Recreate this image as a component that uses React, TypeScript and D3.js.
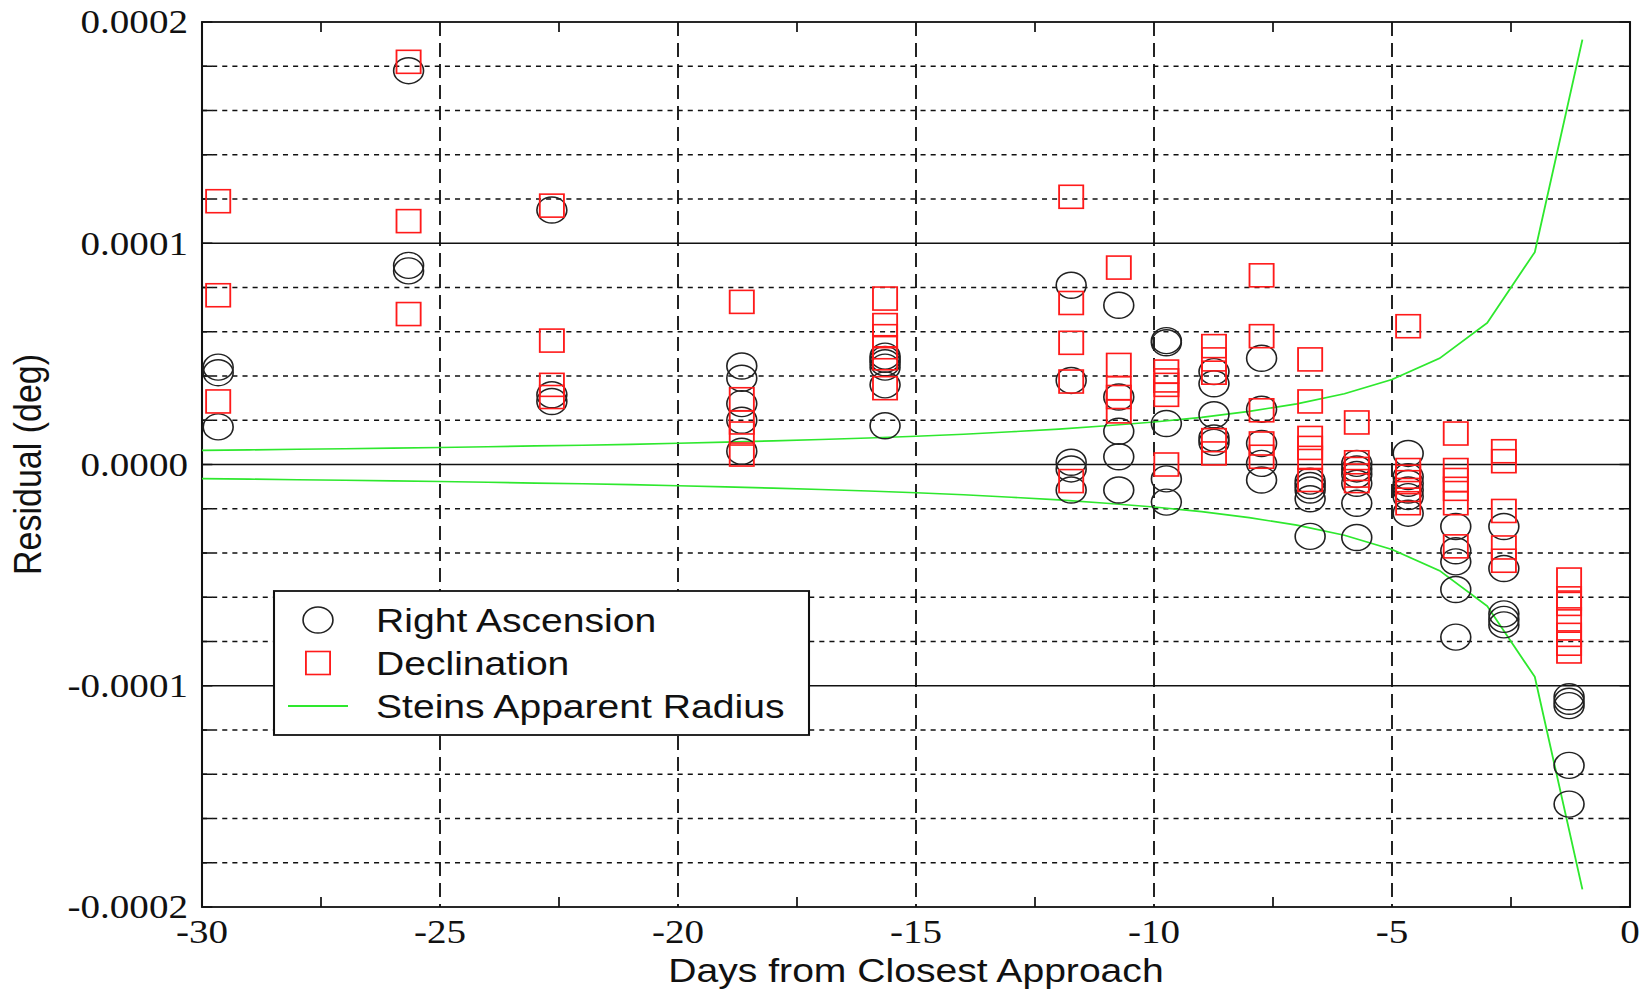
import React from 'react';
import * as d3 from 'd3';

// observation epochs (days from closest approach)
const obsDays = [-29.66, -25.66, -22.65, -18.66, -15.65, -11.74, -10.74, -9.74, -8.74, -7.74, -6.72, -5.74, -4.66, -3.66, -2.65, -1.28];

// residuals in units of 1e-5 deg, one list per epoch
const raResid: number[][] = [
    [4.4, 4.15, 1.7],
    [17.8, 9.0, 8.75],
    [11.5, 3.15, 2.85],
    [4.45, 3.9, 2.75, 2.0, 0.6],
    [4.9, 4.75, 4.6, 4.4, 3.6, 1.75],
    [8.1, 3.8, 0.1, -0.2, -1.15],
    [7.2, 3.05, 1.5, 0.35, -1.15],
    [5.6, 5.5, 1.85, -0.65, -1.7],
    [4.2, 3.65, 2.25, 1.2, 1.0],
    [4.8, 2.5, 0.95, 0.05, -0.7],
    [-0.75, -0.95, -1.15, -1.55, -3.25],
    [0.05, -0.2, -0.45, -0.85, -1.75, -3.3],
    [0.5, -0.55, -0.85, -1.15, -1.45, -2.2],
    [-2.8, -3.9, -4.4, -5.65, -7.8],
    [-2.8, -4.7, -6.75, -7.0, -7.25],
    [-10.5, -10.7, -10.9, -13.6, -15.35],
];

const decResid: number[][] = [
    [11.9, 7.65, 2.85],
    [18.2, 11.0, 6.8],
    [11.7, 5.6, 3.6, 3.05],
    [7.35, 2.95, 1.9, 1.4, 0.45],
    [7.5, 6.3, 5.8, 5.3, 4.8, 3.45],
    [12.1, 7.3, 5.5, 3.75, -0.75],
    [8.9, 4.5, 3.45, 3.05, 2.4],
    [4.2, 3.8, 3.6, 3.15, 0.0],
    [5.35, 4.75, 4.15, 1.1, 0.5],
    [8.55, 5.8, 2.45, 0.95, 0.35],
    [4.75, 2.85, 1.2, 0.75, 0.3, -0.7],
    [1.9, 0.1, -0.2, -0.5, -0.75],
    [6.25, -0.25, -0.55, -0.8, -1.15, -1.75],
    [1.4, -0.25, -0.7, -1.1, -1.75, -3.7],
    [0.6, 0.15, -2.1, -3.75, -4.35],
    [-5.2, -6.05, -6.3, -7.0, -7.7, -8.1, -8.45],
];

// Steins apparent radius (1e-5 deg), plotted as +/- envelope
const steinsDays = [-30, -29, -28, -27, -26, -25, -24, -23, -22, -21, -20, -19, -18, -17, -16, -15, -14, -13, -12, -11, -10, -9, -8, -7, -6, -5, -4, -3, -2, -1];
const steinsRadius = [0.64, 0.66, 0.69, 0.71, 0.74, 0.77, 0.8, 0.84, 0.87, 0.91, 0.96, 1.01, 1.07, 1.13, 1.2, 1.28, 1.37, 1.48, 1.6, 1.75, 1.92, 2.13, 2.4, 2.74, 3.2, 3.84, 4.8, 6.4, 9.6, 19.2];

const xTickValues = [-30, -25, -20, -15, -10, -5, 0];
const xTickLabels = ['-30', '-25', '-20', '-15', '-10', '-5', '0'];
const xMinorTicks = [-27.5, -22.5, -17.5, -12.5, -7.5, -2.5];
const yTickValues = [-20, -10, 0, 10, 20];
const yTickLabels = ['-0.0002', '-0.0001', '0.0000', '0.0001', '0.0002'];

const legendItems = ['Right Ascension', 'Declination', 'Steins Apparent Radius'];

// the original figure is stretched horizontally
const S = 1.15;
const W = 1652;
const H = 992;
const VW = W / S;

const SANS = '"Liberation Sans", Arial, sans-serif';
const SERIF = '"Liberation Serif", "Times New Roman", serif';
const GREEN = '#2ee82e';
const RED = '#ff1a1a';
const INK = '#222';

export default function App() {
    const x = d3.scaleLinear().domain([-30, 0]).range([202 / S, 1630 / S]);
    const y = d3.scaleLinear().domain([-20, 20]).range([907, 22]);
    const [x0, x1] = x.range();
    const [y0, y1] = y.range();

    const gridY = y.ticks(20).filter(v => v % 10 !== 0);
    const solidY = [-10, 0, 10];
    const dashedX = xTickValues.filter(v => v !== -30 && v !== 0);

    const upper = d3.line<number>()
        .x((_, i) => x(steinsDays[i]))
        .y(r => y(r));
    const lower = d3.line<number>()
        .x((_, i) => x(steinsDays[i]))
        .y(r => y(-r));

    const ra = obsDays.flatMap((d, i) => raResid[i].map(v => ({ d, v })));
    const dec = obsDays.flatMap((d, i) => decResid[i].map(v => ({ d, v })));

    const sqW = 21;
    const sqH = 23;

    // legend box
    const lg = { x: 274 / S, y: 591, w: (809 - 274) / S, h: 144 };
    const lgSym = 318 / S;
    const lgText = 376 / S;
    const lgRows = [620, 663, 706];

    return (
        <svg
            width={W}
            height={H}
            viewBox={`0 0 ${VW} ${H}`}
            preserveAspectRatio="none"
            style={{ position: 'absolute', left: 0, top: 0, background: '#fff' }}
        >
            <rect x={0} y={0} width={VW} height={H} fill="#fff" />

            {/* horizontal dotted grid */}
            {gridY.map(v => (
                <line key={'gy' + v} x1={x0} x2={x1} y1={y(v)} y2={y(v)}
                    stroke="#111" strokeWidth={1.4} strokeDasharray="4.4,4.4" />
            ))}
            {/* y ticks on both sides */}
            {y.ticks(20).map(v => (
                <g key={'ty' + v}>
                    <line x1={x0} x2={x0 + 9} y1={y(v)} y2={y(v)} stroke="#111" strokeWidth={1.5} />
                    <line x1={x1 - 9} x2={x1} y1={y(v)} y2={y(v)} stroke="#111" strokeWidth={1.5} />
                </g>
            ))}
            {solidY.map(v => (
                <line key={'sy' + v} x1={x0} x2={x1} y1={y(v)} y2={y(v)} stroke="#111" strokeWidth={1.6} />
            ))}
            {/* vertical dashed grid */}
            {dashedX.map(v => (
                <line key={'gx' + v} x1={x(v)} x2={x(v)} y1={y1} y2={y0}
                    stroke="#111" strokeWidth={1.6} strokeDasharray="14,7" />
            ))}
            {/* minor x ticks */}
            {xMinorTicks.map(v => (
                <g key={'mx' + v}>
                    <line x1={x(v)} x2={x(v)} y1={y0} y2={y0 - 10} stroke="#111" strokeWidth={1.5} />
                    <line x1={x(v)} x2={x(v)} y1={y1} y2={y1 + 10} stroke="#111" strokeWidth={1.5} />
                </g>
            ))}

            {/* frame */}
            <rect x={x0} y={y1} width={x1 - x0} height={y0 - y1} fill="none" stroke="#111" strokeWidth={1.8} />

            {/* Steins apparent radius envelope */}
            <path d={upper(steinsRadius) || ''} fill="none" stroke={GREEN} strokeWidth={1.6} />
            <path d={lower(steinsRadius) || ''} fill="none" stroke={GREEN} strokeWidth={1.6} />

            {/* right ascension */}
            {ra.map((p, i) => (
                <circle key={'ra' + i} cx={x(p.d)} cy={y(p.v)} r={13}
                    fill="none" stroke={INK} strokeWidth={1.4} />
            ))}
            {/* declination */}
            {dec.map((p, i) => (
                <rect key={'dec' + i} x={x(p.d) - sqW / 2} y={y(p.v) - sqH / 2} width={sqW} height={sqH}
                    fill="none" stroke={RED} strokeWidth={1.6} />
            ))}

            {/* y tick labels */}
            {yTickValues.map((v, i) => (
                <text key={'yl' + v} x={188 / S} y={y(v) + 11.5} textAnchor="end"
                    fontFamily={SERIF} fontSize={34} fill="#111">{yTickLabels[i]}</text>
            ))}
            {/* x tick labels */}
            {xTickValues.map((v, i) => (
                <text key={'xl' + v} x={x(v)} y={943} textAnchor="middle"
                    fontFamily={SERIF} fontSize={34} fill="#111">{xTickLabels[i]}</text>
            ))}

            {/* axis titles */}
            <text x={(x0 + x1) / 2} y={982} textAnchor="middle" fontFamily={SANS} fontSize={34} fill="#111">
                Days from Closest Approach
            </text>
            <text transform={`translate(${41 / S},${(y0 + y1) / 2}) rotate(-90)`} textAnchor="middle"
                fontFamily={SANS} fontSize={34} fill="#111">
                Residual (deg)
            </text>

            {/* legend */}
            <rect x={lg.x} y={lg.y} width={lg.w} height={lg.h} fill="#fff" stroke="#111" strokeWidth={1.8} />
            <circle cx={lgSym} cy={lgRows[0]} r={13} fill="none" stroke={INK} strokeWidth={1.4} />
            <rect x={lgSym - sqW / 2} y={lgRows[1] - sqH / 2} width={sqW} height={sqH} fill="none" stroke={RED} strokeWidth={1.6} />
            <line x1={288 / S} x2={348 / S} y1={lgRows[2]} y2={lgRows[2]} stroke={GREEN} strokeWidth={1.8} />
            {legendItems.map((t, i) => (
                <text key={t} x={lgText} y={lgRows[i] + 12} fontFamily={SANS} fontSize={34} fill="#111">{t}</text>
            ))}
        </svg>
    );
}
